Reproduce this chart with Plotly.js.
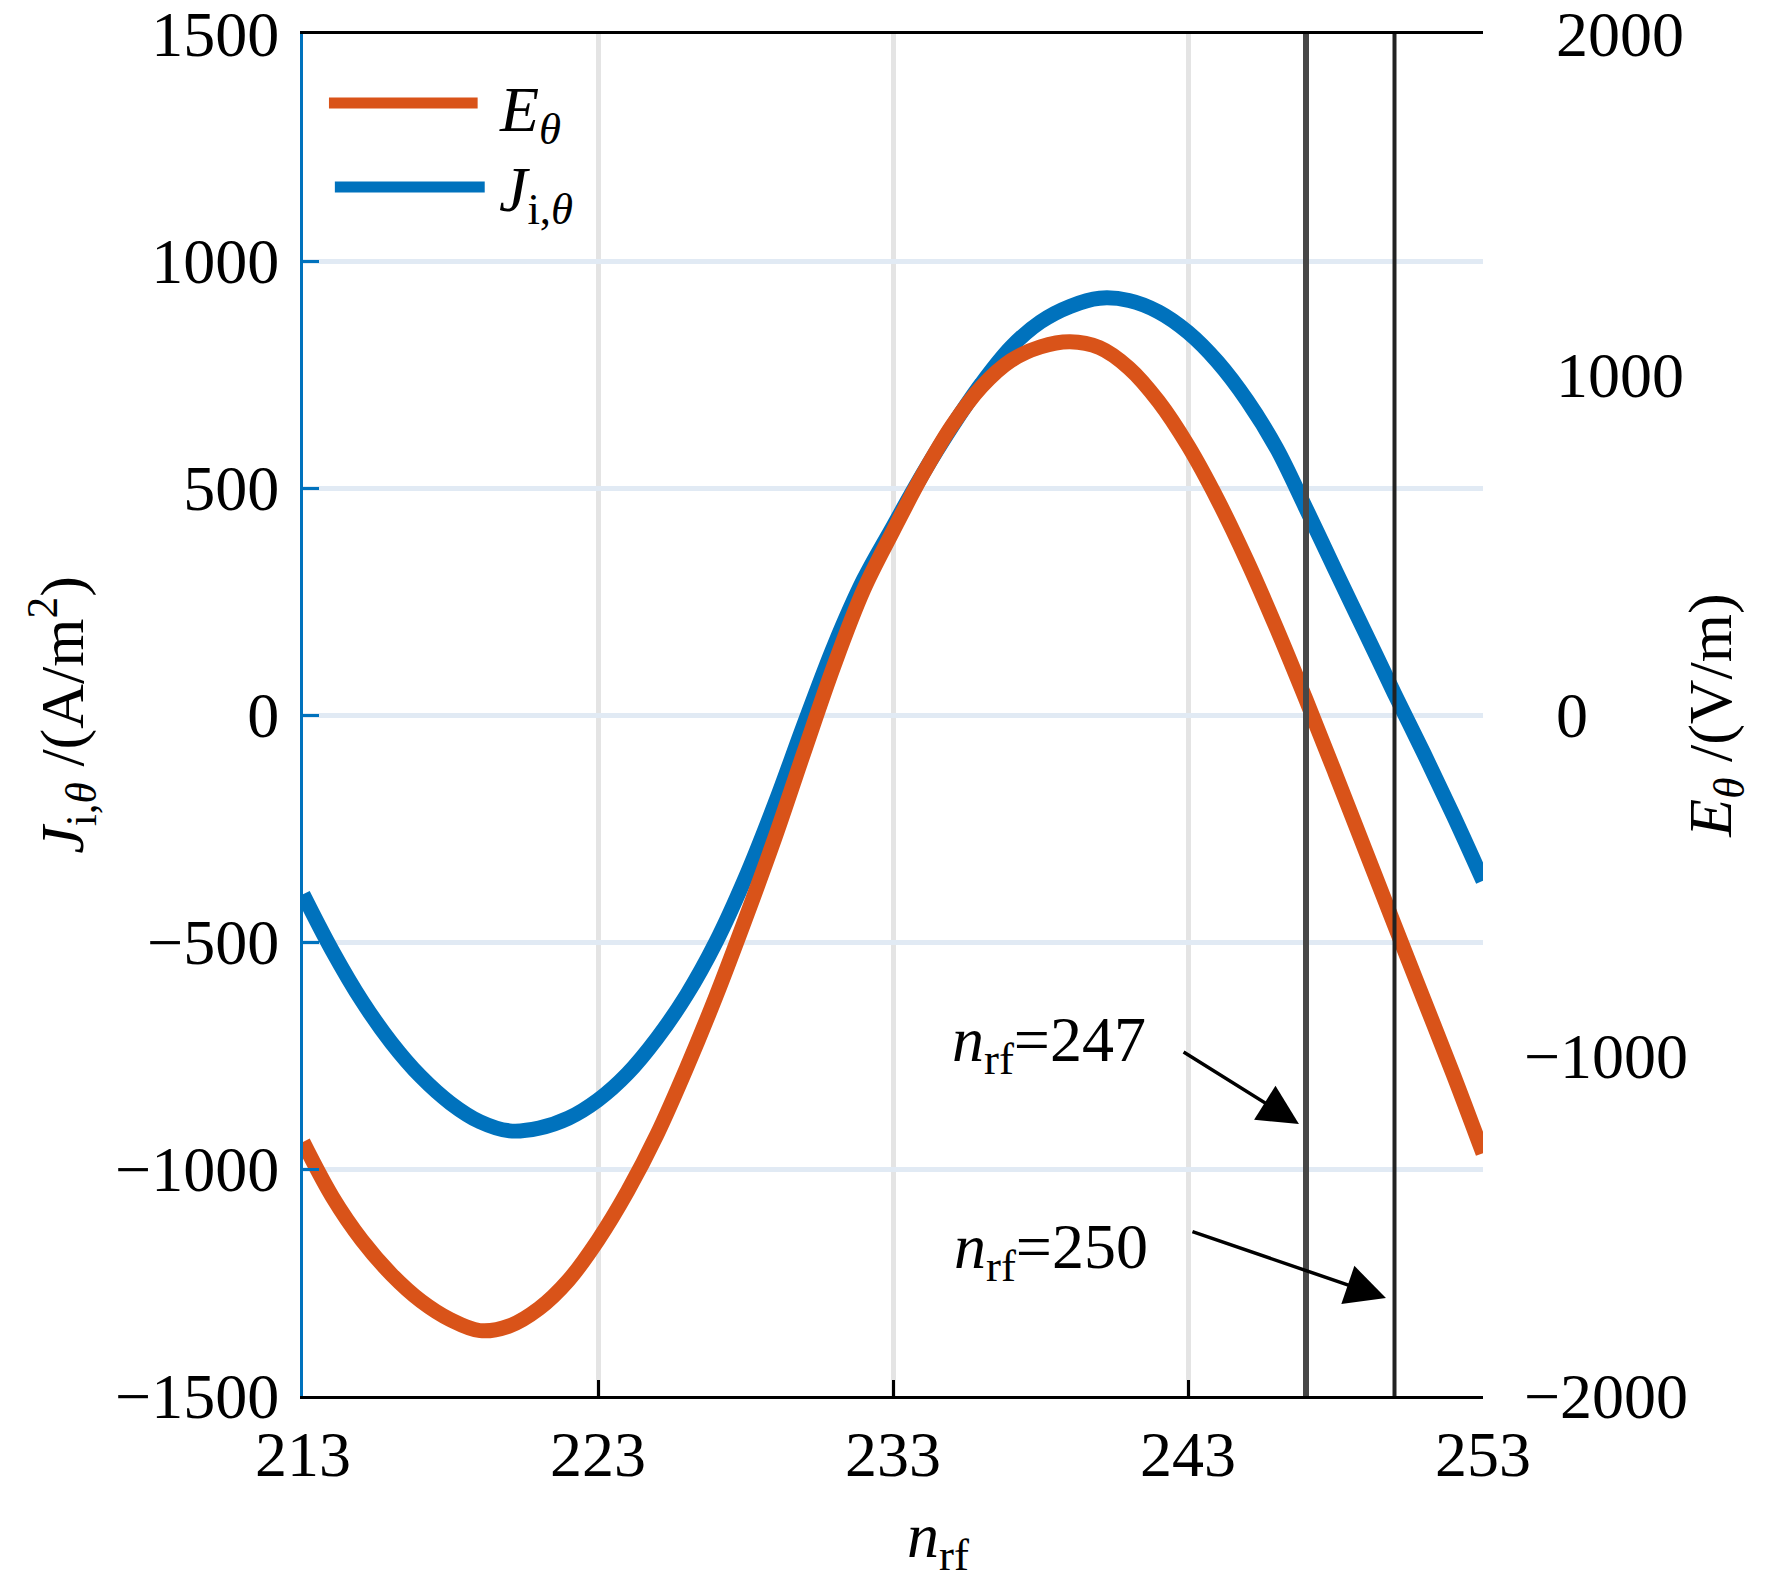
<!DOCTYPE html>
<html>
<head>
<meta charset="utf-8">
<script src="https://cdn.plot.ly/plotly-3.0.1.min.js"></script>
<style>
  html, body { margin: 0; padding: 0; background: #fff; }
  #chart { width: 1772px; height: 1587px; }
</style>
</head>
<body>
<div id="chart"></div>
<script>
// rf period index and the two waveforms
const nrf = [213, 214, 215, 216, 217, 218, 219, 220, 221, 222,
             223, 224, 225, 226, 227, 228, 229, 230, 231, 232,
             233, 234, 235, 236, 237, 238, 239, 240, 241, 242,
             243, 244, 245, 246, 247, 248, 249, 250, 251, 252, 253];

// ion current density J_i,theta (A/m^2), left axis
const jTheta = [-395, -520, -630, -722, -797, -855, -896, -916, -910, -888,
                -848, -790, -712, -617, -500, -358, -195, -18, 152, 298,
                415, 530, 635, 730, 810, 866, 900, 918, 913, 888,
                843, 778, 693, 588, 455, 318, 183, 47, -85, -222, -365];

// electric field E_theta (V/m), right axis
const eTheta = [-1254, -1416, -1543, -1643, -1721, -1776, -1808, -1794, -1743, -1660,
                -1542, -1399, -1232, -1037, -826, -598, -360, -105, 145, 367,
                540, 705, 850, 964, 1041, 1081, 1096, 1079, 1019, 921,
                791, 633, 453, 255, 45, -173, -395, -617, -837, -1057, -1287];

const xTicks = [213, 223, 233, 243, 253];
const eTicks = [-2000, -1000, 0, 1000, 2000];
const markedPeriods = [247, 250];

const blue = '#0072BD';
const orange = '#D95319';
const serif = 'Liberation Serif, Times New Roman, serif';

// labels on the right axis: digits line up, the minus sign hangs left
const eTickText = eTicks.map(v => v < 0 ? '\u2212' + Math.abs(v) : '\u2002' + v);

var traceJ = {
    x: nrf,
    y: jTheta,
    yaxis: 'y',
    type: 'scatter',
    mode: 'lines',
    line: { color: blue, width: 15, shape: 'spline', smoothing: 1 },
    hoverinfo: 'skip'
};

var traceE = {
    x: nrf,
    y: eTheta,
    yaxis: 'y2',
    type: 'scatter',
    mode: 'lines',
    line: { color: orange, width: 15, shape: 'spline', smoothing: 1 },
    hoverinfo: 'skip'
};

// vertical markers at the two chosen periods
var shapes = markedPeriods.map((p, i) => ({
    type: 'line', xref: 'x', yref: 'paper',
    x0: p, x1: p, y0: 0, y1: 1,
    layer: 'above',
    line: { color: i === 0 ? '#474747' : '#222222', width: i === 0 ? 6 : 4 }
}));

// hand-made legend (long line samples like the original)
shapes.push({ type: 'line', xref: 'paper', yref: 'paper',
    x0: 0.022, x1: 0.148, y0: 0.9493, y1: 0.9493,
    line: { color: orange, width: 11 } });
shapes.push({ type: 'line', xref: 'paper', yref: 'paper',
    x0: 0.027, x1: 0.154, y0: 0.8877, y1: 0.8877,
    line: { color: blue, width: 11 } });

var arrowStyle = { showarrow: true, arrowhead: 2, arrowsize: 2.3, arrowwidth: 3.5, arrowcolor: '#000', text: '' };

var annotations = [
    { xref: 'paper', yref: 'paper', x: 0.164, y: 0.9415, xanchor: 'left', yanchor: 'middle',
      text: '<i>E</i><sub><i>θ</i></sub>', showarrow: false },
    { xref: 'paper', yref: 'paper', x: 0.164, y: 0.8826, xanchor: 'left', yanchor: 'middle',
      text: '<i>J</i><sub>i,<i>θ</i></sub>', showarrow: false },
    // x axis title
    { xref: 'paper', yref: 'paper', x: 0.538, y: -0.1055, xanchor: 'center', yanchor: 'middle',
      text: '<i>n</i><sub>rf</sub>', showarrow: false },
    // n_rf = 247
    { xref: 'x', yref: 'y', x: 241.64, y: -725, xanchor: 'right', yanchor: 'middle',
      text: '<i>n</i><sub>rf</sub>=' + markedPeriods[0], showarrow: false },
    Object.assign({ xref: 'x', yref: 'y', x: 246.76, y: -901, axref: 'x', ayref: 'y', ax: 242.8, ay: -740 }, arrowStyle),
    // n_rf = 250
    { xref: 'x', yref: 'y', x: 241.7, y: -1180, xanchor: 'right', yanchor: 'middle',
      text: '<i>n</i><sub>rf</sub>=' + markedPeriods[1], showarrow: false },
    Object.assign({ xref: 'x', yref: 'y', x: 249.71, y: -1284, axref: 'x', ayref: 'y', ax: 243.1, ay: -1137 }, arrowStyle)
];

var layout = {
    width: 1772,
    height: 1587,
    margin: { l: 303, r: 289, t: 34, b: 191 },
    paper_bgcolor: '#ffffff',
    plot_bgcolor: '#ffffff',
    showlegend: false,
    font: { family: serif, size: 64, color: '#000' },
    xaxis: {
        range: [213, 253],
        tickvals: xTicks,
        ticks: 'inside', ticklen: 16, tickwidth: 3, tickcolor: '#000',
        showline: true, linecolor: '#000', linewidth: 3, mirror: true,
        showgrid: true, gridcolor: '#e4e4e4', gridwidth: 5,
        zeroline: false,
        ticklabelstandoff: 0,
        ticklabeloverflow: 'allow',
        automargin: false
    },
    yaxis: {
        range: [-1500, 1500],
        tick0: 0, dtick: 500,
        ticks: 'inside', ticklen: 16, tickwidth: 3, tickcolor: blue,
        showline: true, linecolor: blue, linewidth: 3,
        showgrid: true, gridcolor: '#e1eaf4', gridwidth: 5,
        zeroline: false,
        ticklabelstandoff: 8,
        ticklabeloverflow: 'allow',
        automargin: false,
        title: { text: '<i>J</i><sub>i,<i>θ</i></sub> /(A/m<sup>2</sup>)', standoff: 12,
                 font: { size: 62 } }
    },
    yaxis2: {
        overlaying: 'y', side: 'right', anchor: 'x',
        range: [-2000, 2000],
        tickvals: eTicks, ticktext: eTickText,
        ticks: '', showline: false, showgrid: false, zeroline: false,
        ticklabelstandoff: 40,
        ticklabeloverflow: 'allow',
        automargin: false,
        title: { text: '<i>E</i><sub><i>θ</i></sub> /(V/m)', standoff: 0,
                 font: { size: 62 } }
    },
    // right-hand tick marks sit on the left-axis grid, drawn by a bare axis
    yaxis3: {
        overlaying: 'y', side: 'right', anchor: 'x',
        range: [-1500, 1500],
        tick0: 0, dtick: 500,
        ticks: 'inside', ticklen: 16, tickwidth: 3, tickcolor: orange,
        showline: true, linecolor: orange, linewidth: 3,
        showticklabels: false, showgrid: false, zeroline: false,
        automargin: false
    },
    shapes: shapes,
    annotations: annotations
};

Plotly.newPlot('chart', [traceJ, traceE], layout, { staticPlot: true, displayModeBar: false });
</script>
</body>
</html>
